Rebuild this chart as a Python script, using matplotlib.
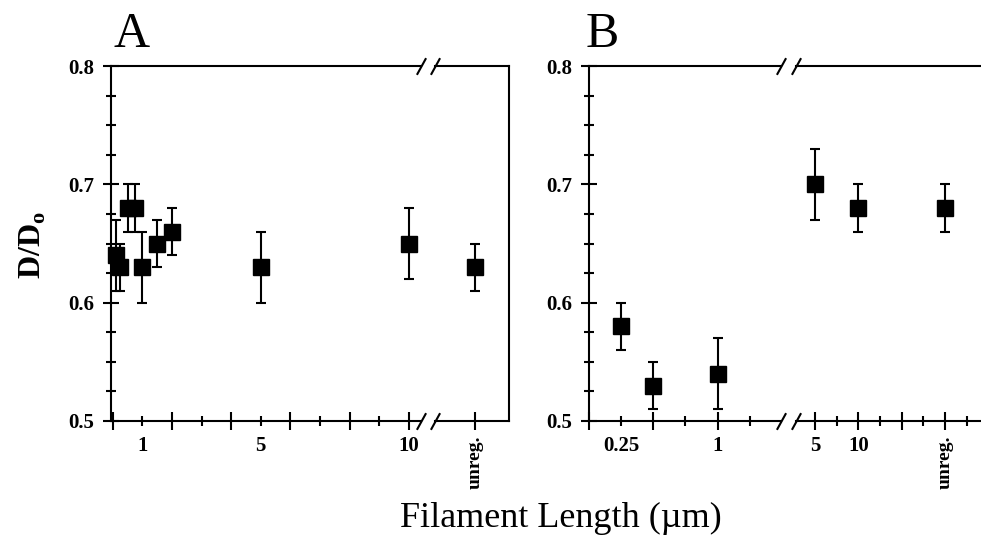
import numpy as np
import matplotlib.pyplot as plt
from matplotlib.ticker import MultipleLocator, FixedLocator

plt.rcParams['font.family'] = ['Liberation Serif', 'DejaVu Serif']
plt.rcParams['mathtext.fontset'] = 'custom'
plt.rcParams['mathtext.rm'] = 'Liberation Serif'

# panel A: filament length (um) vs D/Do
len_A = [0.1, 0.25, 0.5, 0.75, 1, 1.5, 2, 5, 10]
dd_A = [0.64, 0.63, 0.68, 0.68, 0.63, 0.65, 0.66, 0.63, 0.65]
err_A = [0.03, 0.02, 0.02, 0.02, 0.03, 0.02, 0.02, 0.03, 0.03]
unreg_A = 0.63
unreg_err_A = 0.02

# panel B
len_B = [0.25, 0.5, 1, 5, 10]
dd_B = [0.58, 0.53, 0.54, 0.70, 0.68]
err_B = [0.02, 0.02, 0.03, 0.03, 0.02]
unreg_B = 0.68
unreg_err_B = 0.02

W, H = 981, 537
fig = plt.figure(figsize=(W / 100, H / 100), dpi=100)

TOP, BOT = 66, 421
LW = 1.5
TS = 15  # tick label size


def add_ax(x0, x1):
    return fig.add_axes([x0 / W, 1 - BOT / H, (x1 - x0) / W, (BOT - TOP) / H])


def style_y(ax):
    ax.set_ylim(0.5, 0.8)
    ax.yaxis.set_major_locator(FixedLocator([0.5, 0.6, 0.7, 0.8]))
    ax.yaxis.set_minor_locator(MultipleLocator(0.025))
    ax.set_yticklabels(['0.5', '0.6', '0.7', '0.8'], fontsize=TS, fontweight='bold')
    ax.tick_params(axis='y', which='major', direction='inout', length=12, width=LW, pad=6)
    ax.tick_params(axis='y', which='minor', direction='inout', length=6.5, width=LW)


def style_x(ax):
    ax.tick_params(axis='x', which='major', direction='inout', length=13, width=LW,
                   pad=4, labelsize=TS)
    ax.tick_params(axis='x', which='minor', direction='inout', length=7, width=LW,
                   pad=7, labelsize=TS)
    for lbl in ax.get_xticklabels(which='both'):
        lbl.set_fontweight('bold')
        if lbl.get_text() == 'unreg.':
            lbl.set_rotation(90)
            lbl.set_fontsize(14)


def spines(ax, left=True, right=True, top=True):
    for s in ax.spines.values():
        s.set_linewidth(LW)
    ax.spines['left'].set_visible(left)
    ax.spines['right'].set_visible(right)
    ax.spines['top'].set_visible(top)


def breaks(ax, side):
    x = 1 if side == 'right' else 0
    ax.plot([x, x], [0, 1], transform=ax.transAxes, ls='none',
            marker=[(-0.55, -1), (0.55, 1)], markersize=12, mew=LW,
            color='k', clip_on=False)


def points(ax, x, y, e):
    ax.errorbar(x, y, yerr=e, fmt='s', color='k', ms=11.5, ecolor='k',
                elinewidth=LW, capsize=3.8, capthick=LW, clip_on=False, zorder=5)


px = 29.6  # pixels per um in panel A
x0A = 112.7

# ---- panel A ----
axA1 = add_ax(111, 421)
axA1.set_xlim((111 - x0A) / px, (421 - x0A) / px)
points(axA1, len_A, dd_A, err_A)
style_y(axA1)
axA1.xaxis.set_major_locator(FixedLocator([0, 2, 4, 6, 8, 10]))
axA1.xaxis.set_minor_locator(FixedLocator([1, 3, 5, 7, 9]))
axA1.set_xticklabels(['', '', '', '', '', '10'])
axA1.set_xticklabels(['1', '', '5', '', ''], minor=True)
style_x(axA1)
spines(axA1, right=False)
breaks(axA1, 'right')

xuA = 475
axA2 = add_ax(435, 509)
axA2.set_xlim((435 - xuA) / px, (509 - xuA) / px)
points(axA2, [0], [unreg_A], [unreg_err_A])
axA2.set_ylim(0.5, 0.8)
axA2.set_yticks([])
axA2.set_xticks([0], ['unreg.'])
style_x(axA2)
spines(axA2, left=False)
breaks(axA2, 'left')

# ---- panel B ----
pxB1 = 128.3
axB1 = add_ax(589, 781)
axB1.set_xlim(0, (781 - 589.3) / pxB1)
short = [l < 2 for l in len_B]
points(axB1, [l for l, s in zip(len_B, short) if s],
       [d for d, s in zip(dd_B, short) if s],
       [e for e, s in zip(err_B, short) if s])
style_y(axB1)
axB1.xaxis.set_major_locator(FixedLocator([0, 0.5, 1.0]))
axB1.xaxis.set_minor_locator(FixedLocator([0.25, 0.75, 1.25]))
axB1.set_xticklabels(['', '', '1'])
axB1.set_xticklabels(['0.25', '', ''], minor=True)
style_x(axB1)
spines(axB1, right=False)
breaks(axB1, 'right')

pxB2 = 8.66
unreg_pos_B = 20
axB2 = add_ax(796, 981)
axB2.set_xlim(5 + (796 - 815) / pxB2, 5 + (981 - 815) / pxB2)
points(axB2, [l for l, s in zip(len_B, short) if not s] + [unreg_pos_B],
       [d for d, s in zip(dd_B, short) if not s] + [unreg_B],
       [e for e, s in zip(err_B, short) if not s] + [unreg_err_B])
axB2.set_ylim(0.5, 0.8)
axB2.set_yticks([])
axB2.xaxis.set_major_locator(FixedLocator([5, 10, 15, 20]))
axB2.xaxis.set_minor_locator(FixedLocator([7.5, 12.5, 17.5, 22.5]))
axB2.set_xticklabels(['5', '10', '', 'unreg.'])
axB2.set_xticklabels(['', '', '', ''], minor=True)
style_x(axB2)
spines(axB2, left=False, right=False)
breaks(axB2, 'left')

# labels
fig.text(113 / W, 1 - 47 / H, 'A', fontsize=36, va='baseline', ha='left')
fig.text(586 / W, 1 - 47 / H, 'B', fontsize=36, va='baseline', ha='left')
fig.text(33 / W, 1 - 245 / H, r'D/D$_\mathregular{o}$', fontsize=23, fontweight='bold',
         rotation=90, ha='center', va='center')
fig.text(561 / W, 1 - 527 / H, 'Filament Length (\u00b5m)', fontsize=26,
         ha='center', va='baseline')

fig.savefig('out.png', dpi=100)
